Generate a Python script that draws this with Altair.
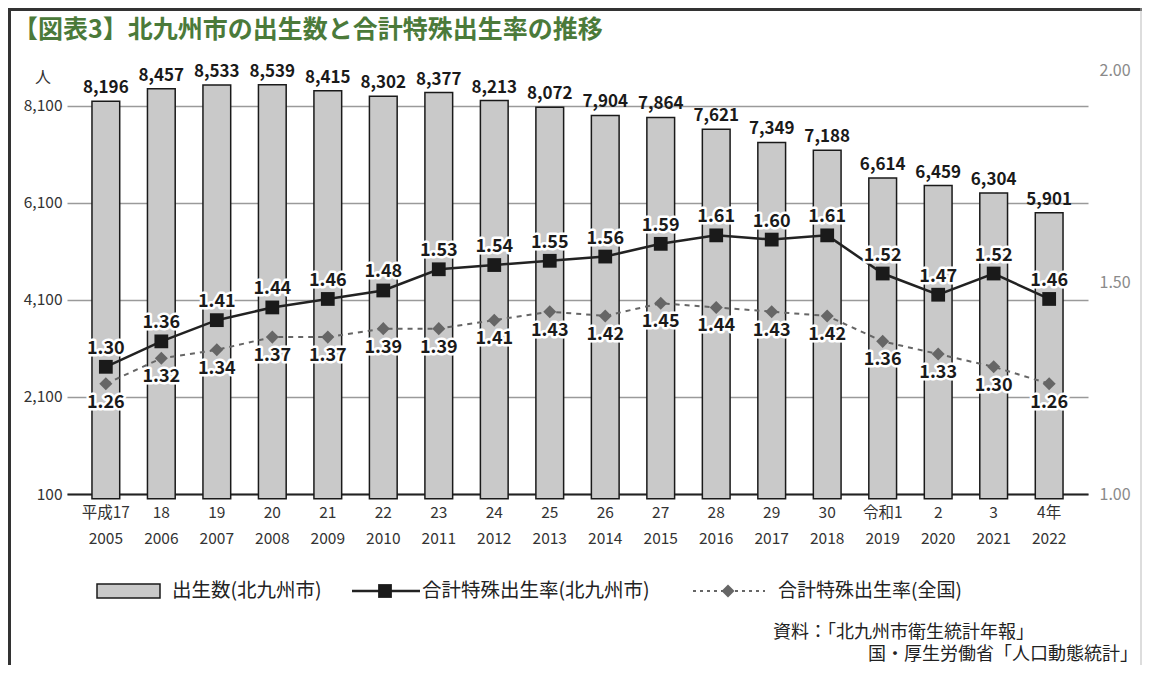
import altair as alt
import pandas as pd

# ---- data ----
era_labels = ["平成17", "18", "19", "20", "21", "22", "23", "24", "25", "26", "27", "28", "29", "30", "令和1", "2", "3", "4年"]
year_labels = ["2005", "2006", "2007", "2008", "2009", "2010", "2011", "2012", "2013", "2014", "2015", "2016", "2017", "2018", "2019", "2020", "2021", "2022"]
births = [8196, 8457, 8533, 8539, 8415, 8302, 8377, 8213, 8072, 7904, 7864, 7621, 7349, 7188, 6614, 6459, 6304, 5901]
city_rate = [1.30, 1.36, 1.41, 1.44, 1.46, 1.48, 1.53, 1.54, 1.55, 1.56, 1.59, 1.61, 1.60, 1.61, 1.52, 1.47, 1.52, 1.46]
national_rate = [1.26, 1.32, 1.34, 1.37, 1.37, 1.39, 1.39, 1.41, 1.43, 1.42, 1.45, 1.44, 1.43, 1.42, 1.36, 1.33, 1.30, 1.26]
left_ticks = [100, 2100, 4100, 6100, 8100]
right_ticks = [1.0, 1.5, 2.0]

title_text = "【図表3】北九州市の出生数と合計特殊出生率の推移"
unit_text = "人"
legend_texts = ["出生数(北九州市)", "合計特殊出生率(北九州市)", "合計特殊出生率(全国)"]
source_texts = ["資料：「北九州市衛生統計年報」", "国・厚生労働省「人口動態統計」"]

FONT = "Noto Sans CJK JP"
df = pd.DataFrame({"era": era_labels, "year": year_labels, "births": births,
                   "city": city_rate, "nat": national_rate})

W, H = 1021, 424

xenc = alt.X("era:N", sort=era_labels, title=None,
             scale=alt.Scale(paddingInner=0.5, paddingOuter=0.45),
             axis=alt.Axis(labelAngle=0, ticks=False,
                           domainColor="#222222", domainWidth=2, labelColor="#333333",
                           labelFontSize=15.5, labelPadding=11, labelFont=FONT))

yleft = alt.Y("births:Q", title=None,
              scale=alt.Scale(domain=[100, 8842], nice=False, zero=False),
              axis=alt.Axis(values=left_ticks, format=",d", grid=True, gridColor="#9a9a9a", gridWidth=1.5,
                            domain=False, ticks=False, labelColor="#333333", labelFontSize=15.5,
                            labelPadding=5, labelFont=FONT, orient="left"))

base = alt.Chart(df)
bars = base.mark_bar(color="#c9c9c9", stroke="#1a1a1a", strokeWidth=1.5).encode(x=xenc, y=yleft)
bar_labels = base.mark_text(baseline="bottom", dy=-4, fontSize=17, fontWeight="bold", font=FONT,
                            color="#1a1a1a").encode(x=xenc, y=yleft, text=alt.Text("births:Q", format=",d"))
year_row = base.mark_text(baseline="middle", fontSize=15.5, font=FONT, color="#333333").encode(
    x=xenc, y=alt.value(H + 45), text="year:N")
left = alt.layer(bars, bar_labels, year_row)

rscale = alt.Scale(domain=[1.0, 2.0], nice=False, zero=False)
yright_axis = alt.Axis(values=right_ticks, format=".2f", grid=False, domain=False, ticks=False,
                       labelColor="#8a8a8a", labelFontSize=16, labelPadding=11, labelFont=FONT, orient="right")
ycity = alt.Y("city:Q", title=None, scale=rscale, axis=yright_axis)
ynat = alt.Y("nat:Q", title=None, scale=rscale, axis=yright_axis)

nat_line = base.mark_line(color="#666666", strokeWidth=2, strokeDash=[5, 5]).encode(x=xenc, y=ynat)
nat_pts = base.mark_point(shape="diamond", filled=True, size=170, color="#666666", opacity=1).encode(x=xenc, y=ynat)
city_line = base.mark_line(color="#222222", strokeWidth=2.5).encode(x=xenc, y=ycity)
city_pts = base.mark_point(shape="square", filled=True, size=190, color="#1a1a1a", opacity=1).encode(x=xenc, y=ycity)

def rate_label(field, baseline, dy):
    halo = base.mark_text(baseline=baseline, dy=dy, fontSize=18, fontWeight="bold", font=FONT,
                          color="white", stroke="white", strokeWidth=5, strokeJoin="round").encode(
        x=xenc, y=alt.Y(f"{field}:Q", scale=rscale, axis=yright_axis, title=None),
        text=alt.Text(f"{field}:Q", format=".2f"))
    txt = base.mark_text(baseline=baseline, dy=dy, fontSize=18, fontWeight="bold", font=FONT,
                         color="#1a1a1a").encode(
        x=xenc, y=alt.Y(f"{field}:Q", scale=rscale, axis=yright_axis, title=None),
        text=alt.Text(f"{field}:Q", format=".2f"))
    return [halo, txt]

right = alt.layer(nat_line, city_line, nat_pts, city_pts,
                  *rate_label("city", "bottom", -9), *rate_label("nat", "top", 10))

# ---- decorations: title, unit, legend, source, frame ----
one = pd.DataFrame({"a": [0]})

def txt(s, x, y, size, color="#222222", weight="normal", align="left"):
    return alt.Chart(pd.DataFrame({"t": [s]})).mark_text(
        align=align, baseline="middle", fontSize=size, font=FONT, color=color, fontWeight=weight
    ).encode(text="t:N", x=alt.value(x), y=alt.value(y))

title = txt(title_text, -54, -40, 25, color="#4b7a3a", weight="bold")
unit = txt(unit_text, -24, 8, 16, color="#333333", align="center")

leg_rect = alt.Chart(one).mark_rect(color="#c9c9c9", stroke="#1a1a1a", strokeWidth=1.5).encode(
    x=alt.value(30), x2=alt.value(93), y=alt.value(514), y2=alt.value(528))
leg_t1 = txt(legend_texts[0], 105, 521, 19.5)
leg_line1 = alt.Chart(one).mark_rule(color="#222222", strokeWidth=2.5).encode(
    x=alt.value(285), x2=alt.value(353), y=alt.value(521))
leg_sq = alt.Chart(one).mark_point(shape="square", filled=True, size=190, color="#1a1a1a", opacity=1).encode(
    x=alt.value(318), y=alt.value(521))
leg_t2 = txt(legend_texts[1], 355, 521, 19.5)
leg_line2 = alt.Chart(one).mark_rule(color="#666666", strokeWidth=2, strokeDash=[3, 4]).encode(
    x=alt.value(626), x2=alt.value(698), y=alt.value(521))
leg_dia = alt.Chart(one).mark_point(shape="diamond", filled=True, size=170, color="#666666", opacity=1).encode(
    x=alt.value(661), y=alt.value(521))
leg_t3 = txt(legend_texts[2], 711, 521, 19)

src1 = txt(source_texts[0], 706, 563, 18)
src2 = txt(source_texts[1], 801, 585, 18)

frame_top = alt.Chart(one).mark_rule(color="#333333", strokeWidth=3).encode(
    x=alt.value(-59), x2=alt.value(1075), y=alt.value(-60.5))
frame_left = alt.Chart(one).mark_rule(color="#333333", strokeWidth=3).encode(
    x=alt.value(-57.5), y=alt.value(-62), y2=alt.value(600))
frame_right = alt.Chart(one).mark_rule(color="#bbbbbb", strokeWidth=1).encode(
    x=alt.value(1074), y=alt.value(-62), y2=alt.value(600))

deco = alt.layer(title, unit, leg_rect, leg_line1, leg_sq, leg_t1, leg_line2, leg_dia, leg_t2, leg_t3,
                 src1, src2, frame_top, frame_left, frame_right)

chart = alt.layer(left, right, deco).resolve_scale(y="independent").properties(
    width=W, height=H,
    autosize=alt.AutoSizeParams(type="none"),
    padding={"left": 59, "top": 62, "right": 54, "bottom": 171},
    background="white",
).configure_view(stroke=None).configure_text(font=FONT)

chart.save("out.html", embed_options={"renderer": "svg", "actions": False})
